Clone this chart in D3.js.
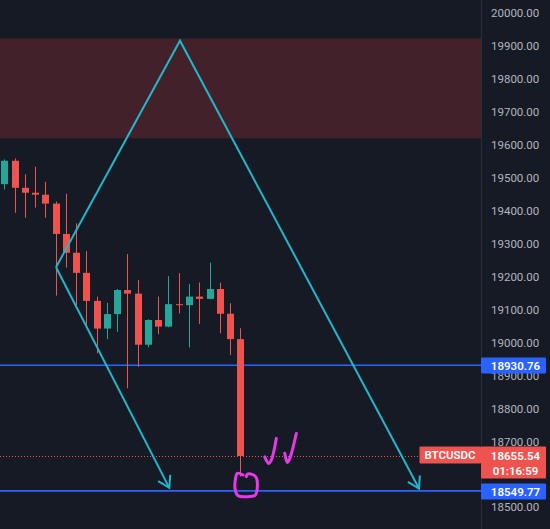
<!DOCTYPE html>
<html>
<head>
<meta charset="utf-8">
<script src="https://cdn.jsdelivr.net/npm/d3@7"></script>
<style>
    html, body { margin: 0; padding: 0; background: #161a25; overflow: hidden; }
    svg text { font-family: Roboto, "Noto Sans", sans-serif; }
</style>
</head>
<body>
<svg id="chart" width="550" height="529"></svg>
<script>
// candles (BTCUSDC)
var opens  = [19480, 19551, 19469, 19454, 19448, 19421, 19329, 19272, 19211, 19126, 19042, 19086,
              19159, 19148, 18993, 19068, 19048, 19116, 19113, 19139, 19132, 19162, 19087, 19010];
var highs  = [19555, 19558, 19510, 19533, 19487, 19427, 19451, 19361, 19277, 19139, 19120, 19162,
              19268, 19189, 19070, 19139, 19201, 19210, 19177, 19182, 19242, 19181, 19119, 19043];
var lows   = [19464, 19393, 19378, 19409, 19378, 19142, 19227, 19113, 19048, 18967, 19010, 19032,
              18861, 18926, 18985, 19025, 19046, 19088, 18985, 19056, 19131, 19028, 18962, 18593];
var closes = [19551, 19469, 19454, 19448, 19421, 19329, 19272, 19211, 19126, 19042, 19086, 19159,
              19148, 18993, 19068, 19048, 19116, 19113, 19139, 19132, 19162, 19087, 19010, 18655.54];

var tickValues = [20000, 19900, 19800, 19700, 19600, 19500, 19400, 19300, 19200, 19100, 19000, 18900, 18800, 18700, 18500];

var zoneTop = 19922, zoneBottom = 19619;       // red supply zone
var levels = [18930.76, 18549.77];              // blue horizontal lines
var lastPrice = 18655.54, countdown = "01:16:59", symbol = "BTCUSDC";

// drawn pattern: [bar index, price]
var patternUp   = [[5.04, 19228], [17.12, 19915], [40.42, 18557]];
var patternDown = [[5.04, 19228], [16.08, 18559]];

// hand drawn marks
var scribbleCircle = [[23.27, 18598], [22.71, 18603], [22.51, 18583], [22.51, 18552], [22.78, 18535],
                      [23.59, 18532], [24.46, 18537], [24.66, 18562], [24.56, 18590], [24.14, 18600],
                      [23.68, 18600], [23.59, 18593]];
var check1 = [[25.38, 18653], [25.77, 18633], [26.02, 18643], [26.51, 18709]];
var check2 = [[27.33, 18664], [27.58, 18636], [27.82, 18648], [28.46, 18724]];

var plotRight = 481;
var upColor = "#26a69a", downColor = "#ef5350", blue = "#2962ff", cyan = "#22b6cb", pink = "#e43ae8";

var svg = d3.select("#chart");

var x = d3.scaleLinear().domain([0, 23]).range([4.3, 240.3]);
var y = d3.scaleLinear().domain([18500, 20000]).range([507.3, 12.7]);

// zone
svg.append("rect")
    .attr("x", 0).attr("width", plotRight)
    .attr("y", y(zoneTop)).attr("height", y(zoneBottom) - y(zoneTop))
    .attr("fill", "#42212b");

// horizontal levels
svg.selectAll("line.level")
    .data(levels)
    .enter().append("line")
    .attr("class", "level")
    .attr("x1", 0).attr("x2", plotRight)
    .attr("y1", function(d) { return y(d); })
    .attr("y2", function(d) { return y(d); })
    .style("stroke", blue).style("stroke-width", 1.6);

// last price dotted line
svg.append("line")
    .attr("x1", 0).attr("x2", plotRight)
    .attr("y1", Math.round(y(lastPrice)) + 0.5).attr("y2", Math.round(y(lastPrice)) + 0.5)
    .attr("stroke", downColor).attr("stroke-width", 1)
    .attr("stroke-dasharray", "1,2");

// candles
var candles = d3.range(opens.length).map(function(i) {
    return { i: i, o: opens[i], h: highs[i], l: lows[i], c: closes[i] };
});

var cg = svg.append("g").attr("class", "candles");
var bars = cg.selectAll("g").data(candles).enter().append("g");

bars.append("line")
    .attr("x1", function(d) { return Math.round(x(d.i)) + 0.5; })
    .attr("x2", function(d) { return Math.round(x(d.i)) + 0.5; })
    .attr("y1", function(d) { return y(d.h); })
    .attr("y2", function(d) { return y(d.l); })
    .attr("stroke", function(d) { return d.c >= d.o ? upColor : downColor; })
    .attr("stroke-width", 1);

bars.append("rect")
    .attr("x", function(d) { return Math.round(x(d.i)) + 0.5 - 3.5; })
    .attr("width", 7)
    .attr("y", function(d) { return y(Math.max(d.o, d.c)); })
    .attr("height", function(d) { return Math.max(1, Math.abs(y(d.o) - y(d.c))); })
    .attr("fill", function(d) { return d.c >= d.o ? upColor : downColor; });

// pattern lines with arrow heads
var line = d3.line()
    .x(function(d) { return x(d[0]); })
    .y(function(d) { return y(d[1]); });

function drawArrow(pts)
{
    svg.append("path")
        .attr("d", line(pts))
        .attr("fill", "none")
        .attr("stroke", cyan)
        .attr("stroke-width", 2)
        .attr("stroke-linejoin", "miter");

    var a = pts[pts.length - 2], b = pts[pts.length - 1];
    var tx = x(b[0]), ty = y(b[1]);
    var ang = Math.atan2(ty - y(a[1]), tx - x(a[0]));
    var len = 13, spread = 0.55;
    var head = [
        [tx - len * Math.cos(ang - spread), ty - len * Math.sin(ang - spread)],
        [tx, ty],
        [tx - len * Math.cos(ang + spread), ty - len * Math.sin(ang + spread)]
    ];
    svg.append("path")
        .attr("d", d3.line()(head))
        .attr("fill", "none")
        .attr("stroke", cyan)
        .attr("stroke-width", 2)
        .attr("stroke-linejoin", "miter");
}
drawArrow(patternUp);
drawArrow(patternDown);

// hand drawn pink marks
var scribble = d3.line()
    .x(function(d) { return x(d[0]); })
    .y(function(d) { return y(d[1]); })
    .curve(d3.curveCatmullRom);

[scribbleCircle, check1, check2].forEach(function(pts) {
    svg.append("path")
        .attr("d", scribble(pts))
        .attr("fill", "none")
        .attr("stroke", pink)
        .attr("stroke-width", 3)
        .attr("stroke-linecap", "round")
        .attr("stroke-linejoin", "round");
});

// price axis
svg.append("line")
    .attr("x1", plotRight + 0.5).attr("x2", plotRight + 0.5)
    .attr("y1", 0).attr("y2", 529)
    .attr("stroke", "#2a2e39");

var axis = d3.axisRight(y)
    .tickValues(tickValues)
    .tickSize(0)
    .tickPadding(0)
    .tickFormat(d3.format(".2f"));

var ag = svg.append("g")
    .attr("transform", "translate(491,0)")
    .call(axis);
ag.select(".domain").remove();
ag.selectAll("text")
    .attr("fill", "#b2b5be")
    .style("font-size", "11.5px");

// price labels
levels.forEach(function(v) {
    var cy = Math.round(y(v)) + 0.5;
    svg.append("rect")
        .attr("x", plotRight).attr("y", cy - 8)
        .attr("width", 65).attr("height", 16)
        .attr("rx", 1)
        .attr("fill", blue);
    svg.append("text")
        .attr("x", 515.5).attr("y", cy)
        .attr("dy", "0.35em")
        .attr("text-anchor", "middle")
        .attr("fill", "#ffffff")
        .style("font-size", "11.5px")
        .style("font-weight", "600")
        .text(d3.format(".2f")(v));
});

var ly = y(lastPrice);
svg.append("rect")
    .attr("x", plotRight).attr("y", ly - 9.5)
    .attr("width", 65).attr("height", 32)
    .attr("rx", 1)
    .attr("fill", downColor);
svg.append("text")
    .attr("x", 515.5).attr("y", ly)
    .attr("dy", "0.35em")
    .attr("text-anchor", "middle")
    .attr("fill", "#ffffff")
    .style("font-size", "11.5px")
    .style("font-weight", "600")
    .text(d3.format(".2f")(lastPrice));
svg.append("text")
    .attr("x", 515.5).attr("y", ly + 14.5)
    .attr("dy", "0.35em")
    .attr("text-anchor", "middle")
    .attr("fill", "#ffffff")
    .style("font-size", "11.5px")
    .style("font-weight", "600")
    .text(countdown);

svg.append("rect")
    .attr("x", 419.5).attr("y", ly - 9.5)
    .attr("width", 61.5).attr("height", 17)
    .attr("rx", 1)
    .attr("fill", downColor);
svg.append("text")
    .attr("x", 450).attr("y", ly - 1)
    .attr("dy", "0.35em")
    .attr("text-anchor", "middle")
    .attr("fill", "#ffffff")
    .style("font-size", "11.5px")
    .style("font-weight", "600")
    .text(symbol);
</script>
</body>
</html>
